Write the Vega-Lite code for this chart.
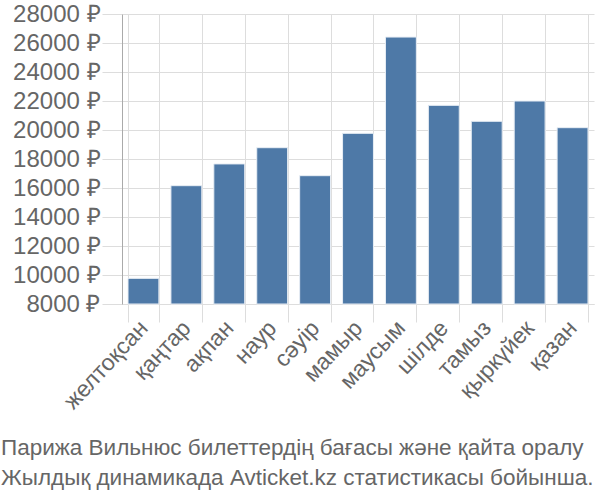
{
  "$schema": "https://vega.github.io/schema/vega-lite/v6.json",
  "width": 472,
  "height": 290,
  "autosize": {"type": "none"},
  "padding": {"left": 122, "top": 14, "right": 6, "bottom": 196},
  "background": "white",
  "title": {
    "text": ["Парижа Вильнюс билеттердің бағасы және қайта оралу", "Жылдық динамикада Avticket.kz статистикасы бойынша."],
    "orient": "bottom",
    "anchor": "start",
    "frame": "group",
    "dx": -121,
    "offset": 24,
    "font": "Liberation Sans",
    "fontSize": 22.5,
    "fontWeight": "normal",
    "color": "#666666",
    "lineHeight": 30
  },
  "data": {
    "values": [
      {"month": "желтоқсан", "price": 9770},
      {"month": "қаңтар", "price": 16160},
      {"month": "ақпан", "price": 17660},
      {"month": "наур", "price": 18780},
      {"month": "сәуір", "price": 16850},
      {"month": "мамыр", "price": 19770},
      {"month": "маусым", "price": 26410},
      {"month": "шілде", "price": 21700},
      {"month": "тамыз", "price": 20600},
      {"month": "қыркүйек", "price": 22000},
      {"month": "қазан", "price": 20160}
    ]
  },
  "mark": {"type": "bar", "color": "#4e79a7", "stroke": "#e8eef5", "strokeWidth": 1},
  "encoding": {
    "x": {
      "field": "month",
      "type": "nominal",
      "sort": null,
      "scale": {"paddingInner": 0.28, "paddingOuter": 0.14},
      "axis": {
        "title": null,
        "labelAngle": -47,
        "labelAlign": "right",
        "labelBaseline": "middle",
        "labelFont": "Liberation Sans",
        "labelFontSize": 23,
        "labelColor": "#666666",
        "tickBand": "extent",
        "tickSize": 18,
        "tickColor": "#dddddd",
        "domainColor": "#dddddd",
        "gridColor": "#dddddd",
        "grid": true,
        "labelPadding": 2
      }
    },
    "y": {
      "field": "price",
      "type": "quantitative",
      "scale": {"domain": [8000, 28000], "zero": false, "nice": false},
      "axis": {
        "title": null,
        "values": [8000, 10000, 12000, 14000, 16000, 18000, 20000, 22000, 24000, 26000, 28000],
        "labelExpr": "datum.value + ' ₽'",
        "labelFont": "Liberation Sans",
        "labelFontSize": 24,
        "labelColor": "#666666",
        "tickSize": 20,
        "tickColor": "#dddddd",
        "domainColor": "#aaaaaa",
        "gridColor": "#dddddd",
        "labelPadding": 2
      }
    },
    "y2": {"datum": 8000}
  },
  "config": {"view": {"stroke": null}, "axis": {"gridWidth": 1}}
}
